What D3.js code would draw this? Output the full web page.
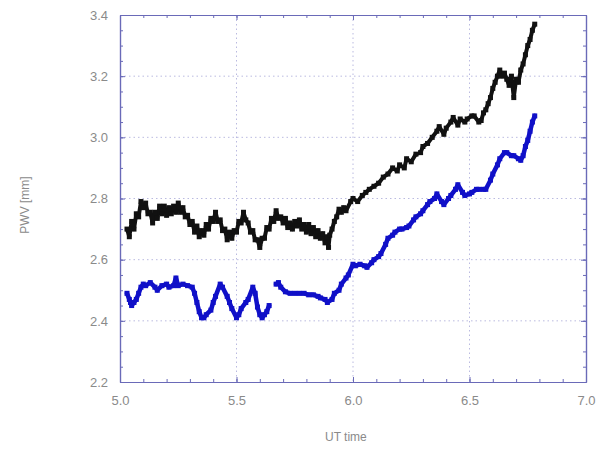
<!DOCTYPE html>
<html><head><meta charset="utf-8">
<script src="https://cdn.jsdelivr.net/npm/d3@7"></script>
<style>body{margin:0;background:#fff}svg{display:block}</style>
</head><body><svg id="c" width="598" height="449"></svg>
<script>
// ---- data ----
const xTicks = [5.0, 5.5, 6.0, 6.5, 7.0];
const yTicks = [2.2, 2.4, 2.6, 2.8, 3.0, 3.2, 3.4];
const xLabel = "UT time";
const yLabel = "PWV [mm]";

const blackX = [5.03,5.04,5.05,5.06,5.07,5.08,5.09,5.10,5.11,5.12,5.13,5.14,5.15,5.16,5.17,5.18,5.19,5.20,5.21,5.22,5.23,5.24,5.25,5.26,5.27,5.28,5.29,5.30,5.31,5.32,5.33,5.34,5.35,5.36,5.37,5.38,5.39,5.40,5.41,5.42,5.43,5.44,5.45,5.46,5.47,5.48,5.49,5.50,5.51,5.52,5.53,5.54,5.55,5.56,5.57,5.58,5.59,5.60,5.61,5.62,5.63,5.64,5.65,5.66,5.67,5.68,5.69,5.70,5.71,5.72,5.73,5.74,5.75,5.76,5.77,5.78,5.79,5.80,5.81,5.82,5.83,5.84,5.85,5.86,5.87,5.88,5.89,5.895,5.90,5.91,5.92,5.93,5.94,5.95,5.96,5.97,5.99,6.00,6.02,6.04,6.055,6.07,6.09,6.11,6.13,6.15,6.17,6.19,6.20,6.22,6.23,6.25,6.27,6.29,6.30,6.32,6.34,6.36,6.37,6.39,6.40,6.42,6.43,6.45,6.46,6.48,6.49,6.51,6.52,6.54,6.55,6.56,6.57,6.58,6.59,6.60,6.61,6.62,6.63,6.64,6.65,6.66,6.67,6.68,6.69,6.70,6.71,6.72,6.73,6.74,6.75,6.76,6.77,6.78];
const blackY = [2.70,2.675,2.725,2.70,2.75,2.74,2.79,2.77,2.785,2.75,2.755,2.72,2.755,2.735,2.775,2.75,2.775,2.745,2.77,2.75,2.775,2.755,2.785,2.755,2.77,2.74,2.745,2.715,2.725,2.69,2.71,2.675,2.695,2.68,2.715,2.70,2.735,2.725,2.755,2.725,2.73,2.695,2.70,2.665,2.69,2.67,2.695,2.69,2.725,2.72,2.755,2.73,2.72,2.69,2.695,2.665,2.665,2.64,2.67,2.67,2.705,2.70,2.735,2.725,2.76,2.735,2.74,2.72,2.735,2.705,2.72,2.70,2.725,2.71,2.73,2.70,2.715,2.69,2.715,2.685,2.705,2.675,2.695,2.67,2.685,2.655,2.675,2.64,2.68,2.70,2.725,2.74,2.765,2.755,2.77,2.76,2.79,2.80,2.79,2.81,2.82,2.83,2.84,2.85,2.87,2.88,2.90,2.89,2.91,2.90,2.93,2.92,2.945,2.95,2.97,2.98,3.00,3.02,3.035,3.01,3.03,3.05,3.065,3.04,3.06,3.05,3.06,3.07,3.07,3.05,3.055,3.08,3.09,3.11,3.13,3.16,3.18,3.20,3.22,3.20,3.21,3.19,3.17,3.20,3.13,3.19,3.18,3.22,3.24,3.27,3.30,3.32,3.35,3.37];

const blueX = [5.03,5.04,5.045,5.05,5.06,5.07,5.08,5.09,5.10,5.11,5.13,5.15,5.16,5.18,5.20,5.21,5.23,5.24,5.25,5.27,5.29,5.31,5.32,5.33,5.34,5.35,5.36,5.37,5.39,5.40,5.41,5.43,5.44,5.46,5.47,5.48,5.50,5.51,5.52,5.54,5.55,5.57,5.58,5.59,5.60,5.61,5.62,5.63,5.64,5.67,5.68,5.69,5.71,5.73,5.75,5.77,5.79,5.81,5.83,5.85,5.86,5.88,5.89,5.91,5.92,5.94,5.95,5.97,5.98,6.00,6.01,6.03,6.05,6.06,6.08,6.09,6.11,6.12,6.14,6.15,6.17,6.18,6.20,6.21,6.23,6.24,6.26,6.27,6.29,6.30,6.32,6.33,6.35,6.36,6.38,6.39,6.41,6.42,6.44,6.45,6.47,6.48,6.50,6.51,6.53,6.54,6.56,6.57,6.59,6.60,6.62,6.63,6.65,6.66,6.68,6.69,6.71,6.72,6.73,6.74,6.75,6.76,6.77,6.78];
const blueY = [2.49,2.47,2.46,2.45,2.46,2.47,2.49,2.51,2.52,2.515,2.525,2.51,2.50,2.515,2.52,2.51,2.515,2.54,2.515,2.52,2.515,2.51,2.49,2.46,2.43,2.41,2.41,2.42,2.435,2.46,2.48,2.52,2.51,2.48,2.46,2.44,2.41,2.42,2.44,2.46,2.47,2.51,2.49,2.445,2.42,2.41,2.42,2.43,2.45,2.52,2.525,2.51,2.495,2.49,2.49,2.49,2.49,2.485,2.485,2.48,2.475,2.47,2.46,2.47,2.49,2.50,2.52,2.54,2.55,2.585,2.58,2.585,2.58,2.575,2.59,2.60,2.61,2.62,2.65,2.67,2.68,2.69,2.70,2.70,2.705,2.71,2.73,2.74,2.75,2.76,2.78,2.79,2.80,2.815,2.79,2.78,2.80,2.81,2.83,2.845,2.82,2.81,2.815,2.82,2.83,2.83,2.83,2.83,2.86,2.88,2.91,2.93,2.95,2.95,2.94,2.94,2.93,2.925,2.94,2.97,2.99,3.02,3.05,3.07];

// ---- layout ----
const svg = d3.select("#c");
const L = 120, R = 586, T = 15, B = 382;
const x = d3.scaleLinear().domain([5.0, 7.0]).range([L, R]);
const y = d3.scaleLinear().domain([2.2, 3.4]).range([B, T]);
const frame = "#6a6ab8";
const grid = "#a8a8d8";
const txt = "#8a8a8a";

// grid
svg.append("g").selectAll("line").data(xTicks.slice(1, -1)).join("line")
  .attr("x1", d => x(d)).attr("x2", d => x(d)).attr("y1", T).attr("y2", B)
  .attr("stroke", grid).attr("stroke-width", 0.8).attr("stroke-dasharray", "1.5,3");
svg.append("g").selectAll("line").data(yTicks.slice(1, -1)).join("line")
  .attr("y1", d => y(d)).attr("y2", d => y(d)).attr("x1", L).attr("x2", R)
  .attr("stroke", grid).attr("stroke-width", 0.8).attr("stroke-dasharray", "1.5,3");

// axes with inner ticks on all sides
const xMinor = d3.range(50, 71).map(v => v / 10);
const yMinor = d3.range(44, 69).map(v => v / 20);
function axisG(axis, tx, ty) {
  const g = svg.append("g").attr("transform", `translate(${tx},${ty})`).call(axis);
  g.selectAll("path").attr("stroke", frame).attr("stroke-width", 1.2);
  g.selectAll("line").attr("stroke", frame);
  g.selectAll("text").attr("fill", txt).style("font-family", "Liberation Sans, Arial, sans-serif").style("font-size", "13px");
  return g;
}
axisG(d3.axisBottom(x).tickValues(xMinor).tickSize(-3).tickSizeOuter(0).tickFormat(""), 0, B);
axisG(d3.axisTop(x).tickValues(xMinor).tickSize(-3).tickSizeOuter(0).tickFormat(""), 0, T);
axisG(d3.axisLeft(y).tickValues(yMinor).tickSize(-3).tickSizeOuter(0).tickFormat(""), L, 0);
axisG(d3.axisRight(y).tickValues(yMinor).tickSize(-3).tickSizeOuter(0).tickFormat(""), R, 0);
axisG(d3.axisBottom(x).tickValues(xTicks).tickSize(-5).tickSizeOuter(0).tickPadding(14).tickFormat(d3.format(".1f")), 0, B);
axisG(d3.axisLeft(y).tickValues(yTicks).tickSize(-5).tickSizeOuter(0).tickPadding(12).tickFormat(d3.format(".1f")), L, 0);
axisG(d3.axisTop(x).tickValues(xTicks).tickSize(-5).tickSizeOuter(0).tickFormat(""), 0, T);
axisG(d3.axisRight(y).tickValues(yTicks).tickSize(-5).tickSizeOuter(0).tickFormat(""), R, 0);

// series: broken where there is a gap in the sampling
function series(xs, ys, color, width, size) {
  const pts = xs.map((v, i) => [v, ys[i]]);
  const segs = [[]];
  pts.forEach((p, i) => {
    if (i > 0 && p[0] - pts[i - 1][0] > 0.025) segs.push([]);
    segs[segs.length - 1].push(p);
  });
  svg.append("g").selectAll("path").data(segs).join("path")
    .attr("d", d3.line().x(d => x(d[0])).y(d => y(d[1])))
    .attr("fill", "none").attr("stroke", color).attr("stroke-width", width)
    .attr("stroke-linejoin", "round").attr("stroke-linecap", "round");
  svg.append("g").selectAll("rect").data(pts).join("rect")
    .attr("x", d => x(d[0]) - size / 2).attr("y", d => y(d[1]) - size / 2)
    .attr("width", size).attr("height", size).attr("fill", color);
}
series(blackX, blackY, "#111", 4, 5);
series(blueX, blueY, "#1010c8", 4.5, 5);

// labels
svg.append("text").attr("x", 325).attr("y", 441).text(xLabel)
  .attr("fill", txt).style("font-family", "Liberation Sans, Arial, sans-serif").style("font-size", "12px");
svg.append("text").attr("transform", "translate(29,205) rotate(-90)").attr("text-anchor", "middle").text(yLabel)
  .attr("fill", txt).style("font-family", "Liberation Sans, Arial, sans-serif").style("font-size", "12px");
</script></body></html>
